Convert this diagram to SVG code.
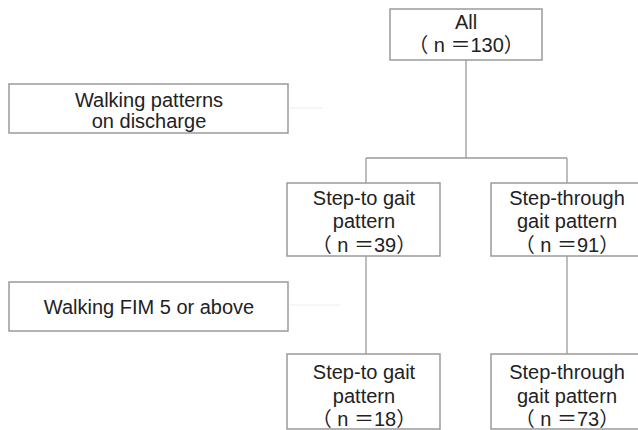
<svg xmlns="http://www.w3.org/2000/svg" width="638" height="430" viewBox="0 0 638 430">
  <style>
    .box { fill: #ffffff; stroke: #9a9a9a; stroke-width: 1.5; }
    .t { font-family: "Liberation Sans", "Noto Sans CJK JP", Arial, sans-serif; font-size: 20px; fill: #222222; text-anchor: middle; }
    .conn { stroke: #9a9a9a; stroke-width: 1.3; fill: none; }
    .faint { stroke: #ececec; stroke-width: 1; fill: none; }
  </style>
  <rect width="638" height="430" fill="#ffffff"/>
  <g id="connectors">
    <path class="conn" d="M466 60 V158 M366 158 H567 M366 158 V183 M567 158 V183"/>
    <path class="conn" d="M366 256 V354 M567 256 V354"/>
    <path class="faint" d="M290 108 H322 M290 305 H340"/>
  </g>
  <g id="all">
    <rect class="box" x="390" y="9" width="152" height="51"/>
    <text class="t" x="466" y="29">All</text>
    <text class="t" x="466" y="52">（ n ＝130）</text>
  </g>
  <g id="walking-patterns">
    <rect class="box" x="9" y="84" width="279" height="49"/>
    <text class="t" x="149" y="107">Walking patterns</text>
    <text class="t" x="149" y="128">on discharge</text>
  </g>
  <g id="step-to-1">
    <rect class="box" x="287" y="183" width="153" height="73"/>
    <text class="t" x="364" y="205">Step-to gait</text>
    <text class="t" x="364" y="228">pattern</text>
    <text class="t" x="364" y="252">（ n ＝39）</text>
  </g>
  <g id="step-through-1">
    <rect class="box" x="491" y="183" width="152" height="73"/>
    <text class="t" x="567" y="205">Step-through</text>
    <text class="t" x="567" y="228">gait pattern</text>
    <text class="t" x="567" y="252">（ n ＝91）</text>
  </g>
  <g id="walking-fim">
    <rect class="box" x="9" y="282" width="279" height="49"/>
    <text class="t" x="149" y="314">Walking FIM 5 or above</text>
  </g>
  <g id="step-to-2">
    <rect class="box" x="287" y="354" width="153" height="75"/>
    <text class="t" x="364" y="379">Step-to gait</text>
    <text class="t" x="364" y="403">pattern</text>
    <text class="t" x="364" y="426">（ n ＝18）</text>
  </g>
  <g id="step-through-2">
    <rect class="box" x="491" y="354" width="152" height="75"/>
    <text class="t" x="567" y="379">Step-through</text>
    <text class="t" x="567" y="403">gait pattern</text>
    <text class="t" x="567" y="426">（ n ＝73）</text>
  </g>
</svg>
